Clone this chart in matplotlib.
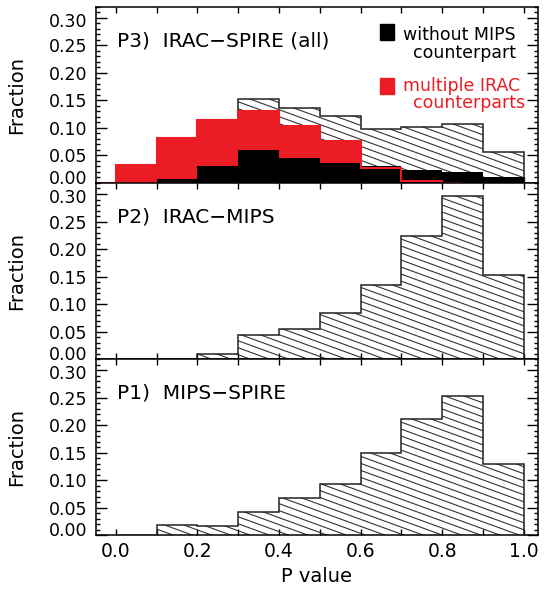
import numpy as np
import matplotlib
matplotlib.use('Agg')
import matplotlib.pyplot as plt
import matplotlib.transforms as mtransforms
from matplotlib.collections import LineCollection
from matplotlib.patches import Rectangle

# bins of P value
edges = np.round(np.arange(0, 1.01, 0.1), 2)

# P3) IRAC-SPIRE (all)
p3_all = [0.032, 0.082, 0.114, 0.153, 0.136, 0.121, 0.098, 0.101, 0.108, 0.057]
p3_multi = [0.0, 0.032, 0.082, 0.114, 0.130, 0.103, 0.076, 0.027, 0.003, 0.0]
p3_multi_edges = np.concatenate(([-0.05], edges[:9], [0.85]))
p3_nomips = [0.0, 0.007, 0.031, 0.060, 0.045, 0.036, 0.031, 0.024, 0.020, 0.010]
# P2) IRAC-MIPS
p2 = [0.0, 0.0, 0.010, 0.043, 0.055, 0.083, 0.134, 0.224, 0.297, 0.153]
# P1) MIPS-SPIRE
p1 = [0.0, 0.019, 0.017, 0.041, 0.068, 0.093, 0.150, 0.211, 0.253, 0.130]

titles = ['P3)  IRAC\u2212SPIRE (all)', 'P2)  IRAC\u2212MIPS', 'P1)  MIPS\u2212SPIRE']
yticks = [0.0, 0.05, 0.10, 0.15, 0.20, 0.25, 0.30]
ylabels = ['0.00', '0.05', '0.10', '0.15', '0.20', '0.25', '0.30']

red = '#ec1c24'
plt.rcParams['font.family'] = 'DejaVu Sans'

fig = plt.figure(figsize=(5.45, 5.93), dpi=100)
left, width, height = 0.176, 0.811, 0.2968
bottoms = [0.6914, 0.3946, 0.0978]
axes = [fig.add_axes([left, b, width, height]) for b in bottoms]


def hatch(ax, patch, angle=20, step=7.0):
    bb = ax.get_position()
    w = bb.width * fig.get_figwidth() * fig.dpi
    h = bb.height * fig.get_figheight() * fig.dpi
    slope = np.tan(np.radians(angle)) * w / h
    dy = step / h
    starts = np.arange(0, 1 + slope + dy, dy)
    segs = [[(0, s), (1, s - slope)] for s in starts]
    lc = LineCollection(segs, transform=ax.transAxes, colors='#333333',
                        linewidths=0.8, zorder=2)
    ax.add_collection(lc, autolim=False)
    lc.set_clip_path(patch)


def shift(label, dy_pt):
    label.set_transform(label.get_transform() +
                        mtransforms.ScaledTranslation(0, dy_pt / 72, fig.dpi_scale_trans))


for ax, vals, title in zip(axes, [p3_all, p2, p1], titles):
    outline = ax.stairs(vals, edges, fill=True, facecolor='none',
                        edgecolor='#222222', linewidth=1.1, zorder=3)
    hatch(ax, outline)
    ax.text(0.047, 0.777, title, transform=ax.transAxes, fontsize=14.5,
            va='baseline', ha='left')
    ax.set_xlim(-0.049, 1.035)
    ax.set_ylim(0, 0.32)
    ax.set_xticks(np.arange(0, 1.01, 0.2))
    ax.set_xticks(np.arange(0.1, 1.0, 0.2), minor=True)
    ax.set_yticks(yticks, ylabels)
    ax.set_yticks(np.arange(0, 0.321, 0.01), minor=True)
    ax.tick_params(axis='both', which='both', direction='in', top=True, right=True,
                   labelsize=13.5, width=1)
    ax.tick_params(axis='y', labelsize=12.5)
    ax.tick_params(axis='x', which='both', length=4, pad=5)
    ax.tick_params(axis='y', which='major', length=8, pad=6)
    ax.tick_params(axis='y', which='minor', length=3)
    for sp in ax.spines.values():
        sp.set_linewidth(1.1)
    ax.text(-0.179, 0.5, 'Fraction', transform=ax.transAxes, rotation=90,
            ha='center', va='center', fontsize=14)
    # keep the 0.00 / 0.30 labels of neighbouring panels apart
    labs = ax.get_yticklabels()
    shift(labs[0], 4.5)
    shift(labs[-1], -1.5)

for ax in axes[:2]:
    ax.tick_params(axis='x', labelbottom=False)

top = axes[0]
top.stairs(p3_multi, p3_multi_edges, fill=True, color=red, linewidth=0, zorder=4)
top.stairs(p3_nomips, edges, fill=True, color='black', linewidth=0, zorder=5)
top.stairs(p3_multi, p3_multi_edges, fill=False, color=red, linewidth=1.5, zorder=6)

# legend
fs = 12.5
top.add_patch(Rectangle((0.642, 0.813), 0.032, 0.091, transform=top.transAxes,
                        color='black', zorder=7))
top.text(0.695, 0.8125, 'without MIPS', transform=top.transAxes, fontsize=fs,
         va='baseline', ha='left')
top.text(0.717, 0.71, 'counterpart', transform=top.transAxes, fontsize=fs,
         va='baseline', ha='left')
top.add_patch(Rectangle((0.642, 0.505), 0.032, 0.091, transform=top.transAxes,
                        color=red, zorder=7))
top.text(0.695, 0.52, 'multiple IRAC', transform=top.transAxes, fontsize=fs,
         va='baseline', ha='left', color=red)
top.text(0.717, 0.425, 'counterparts', transform=top.transAxes, fontsize=fs,
         va='baseline', ha='left', color=red)

axes[2].set_xlabel('P value', fontsize=14, labelpad=4)

fig.savefig('out.png', dpi=100)
